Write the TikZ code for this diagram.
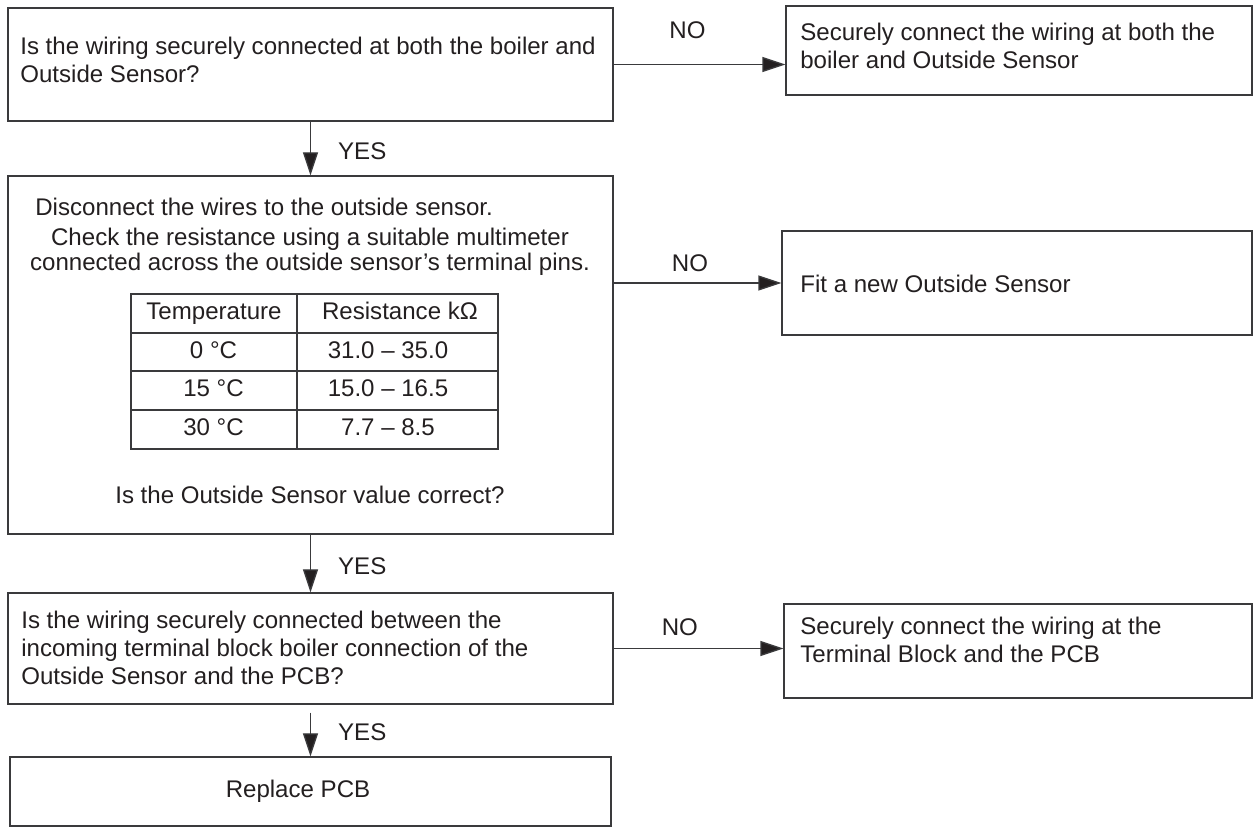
\documentclass[tikz,border=0pt]{standalone}
\usepackage{fontspec}
\setmainfont{Liberation Sans}
\usepackage{xcolor}
\usepackage{tikz}
\usetikzlibrary{arrows.meta,positioning}
\definecolor{chartInk}{HTML}{231F20}
\definecolor{chartLine}{HTML}{3A3A3C}
\newcommand{\chartfont}{\fontsize{13.7pt}{16pt}\selectfont}
\tikzset{
  stepbox/.style={draw=chartLine, line width=0.8pt, rectangle, inner sep=0pt},
  boxtext/.style={text=chartInk, align=left, inner sep=0pt, font=\chartfont},
  celltext/.style={text=chartInk, inner sep=0pt, font=\chartfont,
        text height=0.72em, text depth=0pt},
  tablegrid/.style={draw=chartLine, line width=0.8pt},
  flow/.style={-{Triangle[length=0.46cm, width=0.30cm, fill=chartInk]},
        line width=0.75pt, draw=chartLine},
  flab/.style={text=chartInk, inner sep=0pt, font=\chartfont}
}

\begin{document}
\begin{tikzpicture}[x=0.02cm, y=-0.02cm]
\useasboundingbox (0,0) rectangle (1258,831);

% left column
\node[stepbox, minimum width=12.10cm, minimum height=2.26cm] (q1) at (310.5,64.5) {};
\node[stepbox, minimum width=12.10cm, minimum height=7.16cm] (q2) at (310.5,355) {};
\node[stepbox, minimum width=12.10cm, minimum height=2.22cm] (q3) at (310.5,648.5) {};
\node[stepbox, minimum width=12.02cm, minimum height=1.38cm] (pcb) at (310.5,791.5) {};

% right column
\node[stepbox, minimum width=9.32cm, minimum height=1.78cm] (fix1) at (1019,50.5) {};
\node[stepbox, minimum width=9.40cm, minimum height=2.08cm] (fix2) at (1017,283) {};
\node[stepbox, minimum width=9.36cm, minimum height=1.88cm] (fix3) at (1018,651) {};

% box texts
\node[boxtext, anchor=west] (q1txt) at (20,60)
  {Is the wiring securely connected at both the boiler and\\Outside Sensor?};
\node[boxtext, anchor=west] (q2disc) at (35,207) {Disconnect the wires to the outside sensor.};
\node[boxtext, align=center] (q2check) at (310,252)
  {Check the resistance using a suitable multimeter\\[-2pt]connected across the outside sensor’s terminal pins.};
\node[boxtext, align=center] (q2ask) at (310,495) {Is the Outside Sensor value correct?};
\node[boxtext, anchor=west] (q3txt) at (21,648)
  {Is the wiring securely connected between the\\incoming terminal block boiler connection of the\\Outside Sensor and the PCB?};
\node[boxtext, align=center] (pcbtxt) at (298,791.5) {Replace PCB};
\node[boxtext, anchor=west] (fix1txt) at (800,45.5)
  {Securely connect the wiring at both the\\boiler and Outside Sensor};
\node[boxtext, anchor=west] (fix2txt) at (800,284) {Fit a new Outside Sensor};
\node[boxtext, anchor=west] (fix3txt) at (800,640)
  {Securely connect the wiring at the\\Terminal Block and the PCB};

% resistance table
\draw[tablegrid] (131,294) rectangle (498,449);
\foreach \y in {333,371,410}
  \draw[tablegrid] (131,\y) -- (498,\y);
\draw[tablegrid] (297,294) -- (297,449);
\node[celltext] (hdtemp) at (214,313.5) {Temperature};
\node[celltext] (hdres) at (400,313.5) {Resistance kΩ};
\foreach \tmp/\res/\y [count=\i] in {0/31.0 \textendash{} 35.0/352,
    15/15.0 \textendash{} 16.5/390.5, 30/7.7 \textendash{} 8.5/429.5} {
  \node[celltext] (temp\i) at (213.5,\y) {\tmp\ °C};
  \node[celltext] (res\i) at (388,\y) {\res};
}

% yes branches
\draw[flow] (q1.south) -- node[flab, right=0.54cm, pos=0.55] (yes1) {YES} (q2.north);
\draw[flow] (q2.south) -- node[flab, right=0.54cm, pos=0.55] (yes2) {YES} (q3.north);
\draw[flow] ([yshift=-0.16cm]q3.south) -- node[flab, right=0.54cm, pos=0.45] (yes3) {YES} (pcb.north);

% no branches
\draw[flow] (q1.east) -- node[flab, above=0.5cm, pos=0.43] (no1) {NO} (fix1.west |- q1.east);
\draw[flow] (q2.east |- fix2.west) -- node[flab, above=0.22cm, pos=0.455] (no2) {NO} (fix2.west);
\draw[flow] (q3.east) -- node[flab, above=0.25cm, pos=0.39] (no3) {NO} (fix3.west |- q3.east);
\end{tikzpicture}
\end{document}
